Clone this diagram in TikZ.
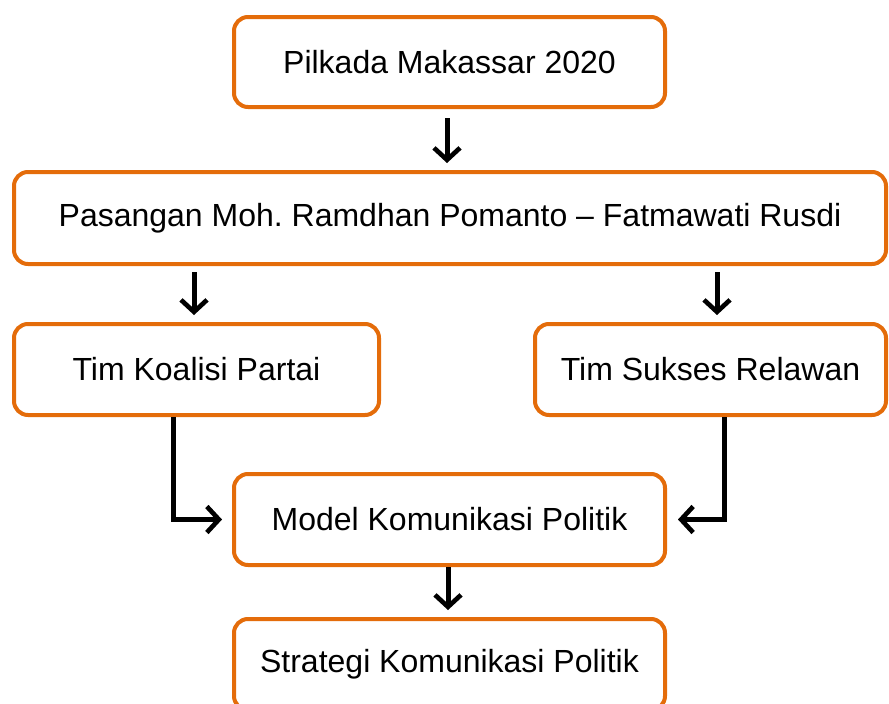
\documentclass[tikz,border=0pt]{standalone}
\usepackage{fontspec}
\setmainfont{Liberation Sans}
\frenchspacing
\usetikzlibrary{arrows.meta}
\definecolor{boxorange}{RGB}{228,108,10}
\begin{document}
\begin{tikzpicture}[x=1pt,y=-1pt,
  box/.style={draw=boxorange, line width=4pt, rounded corners=14pt, fill=white,
    inner sep=0pt, font=\fontsize{32}{38}\selectfont, text=black},
  arr/.style={line width=5pt, -{Straight Barb[length=12pt,width=26pt,line width=4.6pt]}},
  shad/.style={line width=5pt, draw=black!30, opacity=0.5, -{Straight Barb[length=12pt,width=26pt,line width=4.6pt]}}]
\useasboundingbox (0,0) rectangle (889,704);
\node[box, minimum width=431pt, minimum height=90pt] (b1) at (449.5,62) {Pilkada Makassar 2020};
\node[box, minimum width=872pt, minimum height=92pt] (b2) at (450,218) {Pasangan Moh. Ramdhan Pomanto – Fatmawati Rusdi};
\node[box, minimum width=365pt, minimum height=91pt] (b3) at (196.5,369.5) {Tim Koalisi Partai};
\node[box, minimum width=351pt, minimum height=91pt] (b4) at (710.5,369.5) {Tim Sukses Relawan};
\node[box, minimum width=431pt, minimum height=91pt] (b5) at (449.5,519.5) {Model Komunikasi Politik};
\node[box, minimum width=431pt, minimum height=91pt] (b6) at (449.5,664.5) {Strategi Komunikasi Politik};
% shadows
\begin{scope}[shift={(1.5,1.5)}]
\draw[shad, shorten <=9pt, shorten >=7pt] ([xshift=-2.5pt]b1.south) -- ([xshift=-2.5pt]b1.south |- b2.north);
\draw[shad, shorten <=6pt, shorten >=7pt] ([xshift=-2.5pt]b3.north |- b2.south) -- ([xshift=-2.5pt]b3.north);
\draw[shad, shorten <=6pt, shorten >=7pt] ([xshift=6.5pt]b4.north |- b2.south) -- ([xshift=6.5pt]b4.north);
\draw[shad, shorten >=10pt] ([xshift=-23.5pt]b3.south) |- (b5.west);
\draw[shad, shorten >=11pt] ([xshift=13.5pt]b4.south) |- (b5.east);
\draw[shad, shorten >=7pt] ([xshift=-1.5pt]b5.south) -- ([xshift=-1.5pt]b6.north);
\end{scope}
% arrows
\draw[arr, shorten <=9pt, shorten >=7pt] ([xshift=-2.5pt]b1.south) -- ([xshift=-2.5pt]b1.south |- b2.north);
\draw[arr, shorten <=6pt, shorten >=7pt] ([xshift=-2.5pt]b3.north |- b2.south) -- ([xshift=-2.5pt]b3.north);
\draw[arr, shorten <=6pt, shorten >=7pt] ([xshift=6.5pt]b4.north |- b2.south) -- ([xshift=6.5pt]b4.north);
\draw[arr, shorten >=10pt] ([xshift=-23.5pt]b3.south) |- (b5.west);
\draw[arr, shorten >=11pt] ([xshift=13.5pt]b4.south) |- (b5.east);
\draw[arr, shorten >=7pt] ([xshift=-1.5pt]b5.south) -- ([xshift=-1.5pt]b6.north);
\end{tikzpicture}
\end{document}
